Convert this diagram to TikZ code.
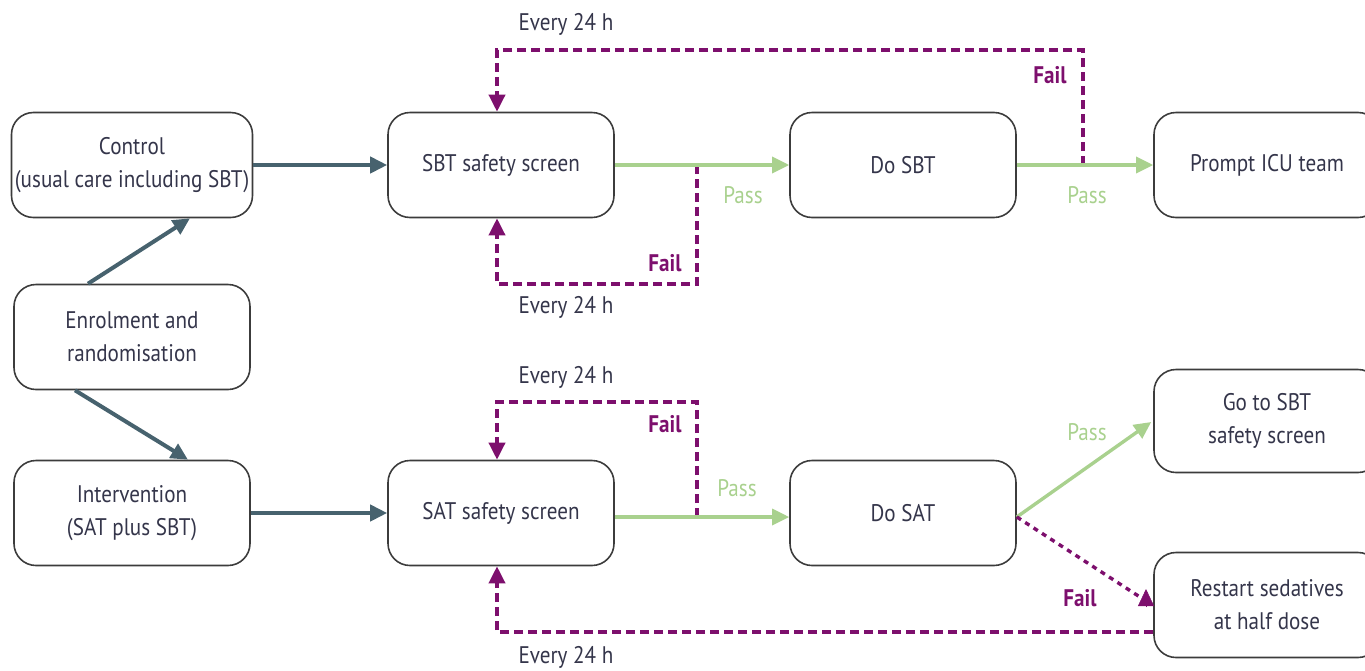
\documentclass[tikz,border=0pt]{standalone}
\usepackage{fontspec}
\setmainfont{PT Sans}[FakeStretch=0.88]
\usetikzlibrary{arrows.meta,calc}
\definecolor{boxline}{HTML}{3C3C3C}
\definecolor{txt}{HTML}{34354A}
\definecolor{slate}{HTML}{47626E}
\definecolor{passg}{HTML}{A9D18E}
\definecolor{failp}{HTML}{7D0F6D}
\tikzset{
  stepbox/.style={draw=boxline, line width=1.6pt, rounded corners=22pt,
    minimum width=236pt, minimum height=105pt, align=center, text=txt,
    font=\fontsize{24}{33}\selectfont},
  sidebox/.style={stepbox, minimum width=226pt},
  armarrow/.style={draw=slate, line width=4pt, -{Triangle[length=17pt,width=16pt]}},
  passarrow/.style={draw=passg, line width=3.4pt, -{Triangle[length=17pt,width=16pt]}},
  failpath/.style={draw=failp, line width=3.6pt, dash pattern=on 9pt off 5pt},
  failarrow/.style={failpath, -{Triangle[length=17pt,width=16pt]}},
  faildot/.style={draw=failp, line width=3.4pt, dash pattern=on 5pt off 5pt},
  passlbl/.style={text=passg, font=\fontsize{24}{28}\selectfont},
  faillbl/.style={text=failp, font=\fontsize{24}{28}\selectfont\bfseries},
  everylbl/.style={text=txt, font=\fontsize{24}{28}\selectfont},
}
\begin{document}
\begin{tikzpicture}[x=1pt, y=-1pt]
\useasboundingbox (0,0) rectangle (1365,670);

% boxes
\node[stepbox] (control) at (132,165) {Control\\(usual care including SBT)};
\node[stepbox] (enrol) at (132,337) {Enrolment and\\randomisation};
\node[stepbox] (interv) at (132,513) {Intervention\\(SAT plus SBT)};
\node[sidebox] (sbt) at (501,165) {SBT safety screen};
\node[sidebox] (dosbt) at (903,165) {Do SBT};
\node[sidebox] (prompt) at (1267,165) {Prompt ICU team};
\node[sidebox] (sat) at (501,513) {SAT safety screen};
\node[sidebox] (dosat) at (903,513) {Do SAT};
\node[sidebox, minimum height=103pt] (gosbt) at (1267,421) {Go to SBT\\safety screen};
\node[sidebox] (restart) at (1267,605) {Restart sedatives\\at half dose};

% randomisation arms
\coordinate (e1) at ($(enrol.north)+(-44,0)$);
\coordinate (c1) at ($(control.south)+(58,0)$);
\coordinate (e2) at ($(enrol.south)+(-57,0)$);
\coordinate (i1) at ($(interv.north)+(56,0)$);
\draw[armarrow] (e1) -- (c1);
\draw[armarrow] (e2) -- (i1);
\draw[armarrow] (control) -- (sbt);
\draw[armarrow] (interv) -- (sat);

% control arm loops
\coordinate (sbtfork) at (697,165);
\coordinate (dosbtfork) at (1083,165);
\draw[failarrow] (sbtfork) -- (697,284) -| ($(sbt.south)+(-4,0)$);
\draw[failarrow] (dosbtfork) -- (1083,50) -| ($(sbt.north)+(-4,0)$);
\draw[passarrow] (sbt) -- (dosbt);
\draw[passarrow] (dosbt) -- (prompt);

% intervention arm loops
\coordinate (satfork) at (697,517);
\draw[failarrow] (satfork) -- (697,402) -| ($(sat.north)+(-4,0)$);
\draw[passarrow] (sat.east |- satfork) -- (dosat.west |- satfork);
\draw[passarrow] (dosat.east |- satfork) -- ($(gosbt.west)+(-2,1)$);
\coordinate (rmid) at (1143,599);
\draw[faildot] (dosat.east |- satfork) -- (rmid);
\path[fill=failp, -{Triangle[length=17pt,width=16pt,fill=failp]}, draw=failp, line width=0.5pt]
  (1146,607) -- (1146,589);
\draw[failarrow] ([yshift=-27pt]restart.west) -| ($(sat.south)+(-4,0)$);

% labels
\node[everylbl] at (566,24) {Every 24 h};
\node[everylbl] at (566,307) {Every 24 h};
\node[everylbl] at (566,377) {Every 24 h};
\node[everylbl] at (566,657) {Every 24 h};
\node[faillbl] at (1050,75) {Fail};
\node[faillbl] at (665,263) {Fail};
\node[faillbl] at (665,424) {Fail};
\node[faillbl] at (1080,598) {Fail};
\node[passlbl] at (743,195) {Pass};
\node[passlbl] at (1087,195) {Pass};
\node[passlbl] at (737,488) {Pass};
\node[passlbl] at (1087,432) {Pass};
\end{tikzpicture}
\end{document}
